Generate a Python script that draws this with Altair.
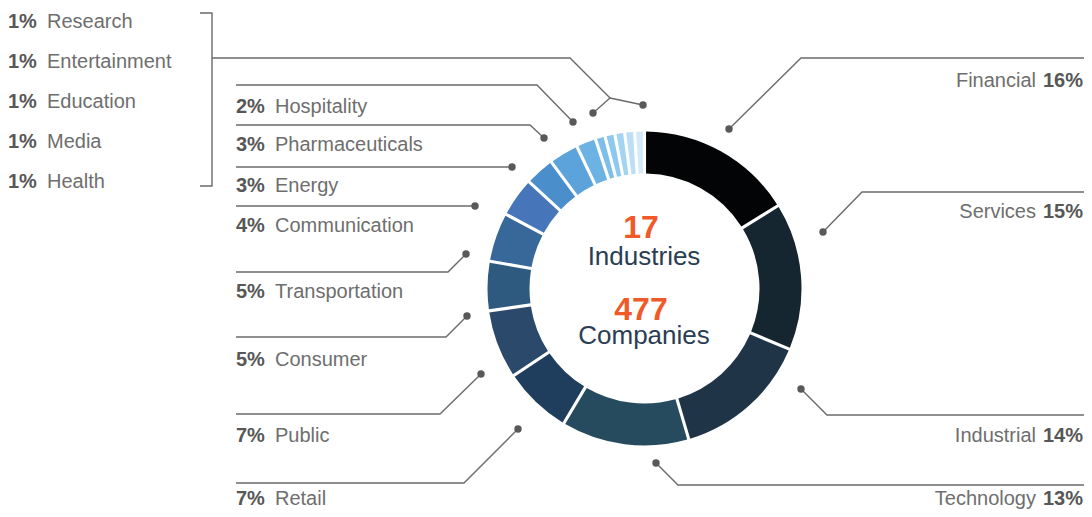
import altair as alt
import pandas as pd

# ---------------- data ----------------
categories = ["Financial", "Services", "Industrial", "Technology", "Retail", "Public",
              "Consumer", "Transportation", "Communication", "Energy", "Pharmaceuticals",
              "Hospitality", "Health", "Media", "Education", "Entertainment", "Research"]
shares = [16, 15, 14, 13, 7, 7, 5, 5, 4, 3, 3, 2, 1, 1, 1, 1, 1]
colors = ["#030405", "#162631", "#1f3447", "#264b5f", "#1f3e5e", "#2b4a6b",
          "#2e5a80", "#38689a", "#4676b9", "#4a8fcc", "#5ba3da", "#6cb2e2",
          "#7dbfe9", "#8dc9ee", "#a3d4f2", "#bcdff5", "#d3ebf9"]
industries_count = 17
companies_count = 477

# ---------------- layout (page pixels) ----------------
CX, CY = 644.5, 288.5
RX = 1083  # right text anchor (chart area ends at 1084)
label_layout = {  # side, anchor x, text baseline
    "Financial": ("R", RX, 87), "Services": ("R", RX, 218),
    "Industrial": ("R", RX, 442), "Technology": ("R", RX, 504.5),
    "Hospitality": ("L", 236, 113), "Pharmaceuticals": ("L", 236, 151),
    "Energy": ("L", 236, 192), "Communication": ("L", 236, 232),
    "Transportation": ("L", 236, 298), "Consumer": ("L", 236, 366),
    "Public": ("L", 236, 442), "Retail": ("L", 236, 504.5),
    "Research": ("L", 8, 28), "Entertainment": ("L", 8, 68),
    "Education": ("L", 8, 108), "Media": ("L", 8, 148), "Health": ("L", 8, 188),
}
leaders = {  # polyline vertices; last vertex gets a dot
    "Financial": [(1084, 58), (801, 58), (729, 129)],
    "Services": [(1084, 192), (862, 192), (823, 232)],
    "Industrial": [(1084, 415), (827, 415), (801, 389)],
    "Technology": [(1084, 485), (678, 485), (656, 463)],
    "Hospitality": [(236, 85), (537, 85), (573, 122)],
    "Pharmaceuticals": [(236, 125), (530, 125), (544, 138)],
    "Energy": [(236, 167), (512, 167)],
    "Communication": [(236, 206), (475, 206)],
    "Transportation": [(236, 272), (448, 272), (466, 254)],
    "Consumer": [(236, 337), (446, 337), (467, 316)],
    "Public": [(236, 414), (440, 414), (481, 374)],
    "Retail": [(236, 483), (464, 483), (518, 429)],
    "bracket": [(200, 13), (212, 13), (212, 186), (200, 186)],
    "group_a": [(212, 58), (570, 58), (610, 98), (593, 113)],
    "group_b": [(610, 98), (643, 105)],
}
dot_keys = [k for k in leaders if k != "bracket"]

# ---------------- tables ----------------
arc_df = pd.DataFrame({"category": categories, "share": shares, "idx": range(len(categories))})

rows = []
for k, pts in leaders.items():
    for i, (px, py) in enumerate(pts):
        rows.append({"seg": k, "i": i, "px": px, "py": py})
line_df = pd.DataFrame(rows)
dot_df = pd.DataFrame([{"seg": k, "px": leaders[k][-1][0], "py": leaders[k][-1][1]} for k in dot_keys])

lab_rows = []
for c, s in zip(categories, shares):
    side, lx, ly = label_layout[c]
    lab_rows.append({"name": c, "pct": f"{s}%", "side": side, "lx": lx, "ly": ly})
lab_df = pd.DataFrame(lab_rows)
left_df = lab_df[lab_df.side == "L"]
right_df = lab_df[lab_df.side == "R"]

center_df = pd.DataFrame({
    "txt": [str(industries_count), "Industries", str(companies_count), "Companies"],
    "kind": ["num", "word", "num", "word"],
    "px": [641, 644, 641, 644],
    "py": [238, 265, 320, 344],
})

# ---------------- scales ----------------
xs = alt.Scale(domain=[8, 1084], nice=False, zero=False)
ys = alt.Scale(domain=[8, 509], nice=False, zero=False, reverse=True)
FONT = "Liberation Sans"
NAME_C = "#6e6e6e"
PCT_C = "#575757"

def X(f):
    return alt.X(f, type="quantitative", scale=xs, axis=None)

def Y(f):
    return alt.Y(f, type="quantitative", scale=ys, axis=None)

arc = alt.Chart(arc_df).mark_arc(innerRadius=115, outerRadius=157, padAngle=0.016).encode(
    theta=alt.Theta("share:Q", stack=True),
    order=alt.Order("idx:Q"),
    color=alt.Color("category:N", scale=alt.Scale(domain=categories, range=colors), legend=None),
    x=alt.X(datum=CX, type="quantitative", scale=xs, axis=None),
    y=alt.Y(datum=CY, type="quantitative", scale=ys, axis=None),
)

lines = alt.Chart(line_df).mark_line(color="#6b6b6b", strokeWidth=1.4).encode(
    x=X("px"), y=Y("py"), detail="seg:N", order="i:Q")

dots = alt.Chart(dot_df).mark_circle(size=55, color="#595959", opacity=1).encode(
    x=X("px"), y=Y("py"))

left_pct = alt.Chart(left_df).mark_text(align="left", baseline="alphabetic", font=FONT,
                                        fontSize=20, fontWeight="bold", color=PCT_C).encode(
    x=X("lx"), y=Y("ly"), text="pct:N")
left_name = alt.Chart(left_df).mark_text(align="left", baseline="alphabetic", font=FONT,
                                         fontSize=20, color=NAME_C, dx=39).encode(
    x=X("lx"), y=Y("ly"), text="name:N")
right_pct = alt.Chart(right_df).mark_text(align="right", baseline="alphabetic", font=FONT,
                                          fontSize=20, fontWeight="bold", color=PCT_C).encode(
    x=X("lx"), y=Y("ly"), text="pct:N")
right_name = alt.Chart(right_df).mark_text(align="right", baseline="alphabetic", font=FONT,
                                           fontSize=20, color=NAME_C, dx=-47).encode(
    x=X("lx"), y=Y("ly"), text="name:N")

center_num = alt.Chart(center_df[center_df.kind == "num"]).mark_text(
    align="center", baseline="alphabetic", font=FONT, fontSize=32, fontWeight="bold",
    color="#f05a28").encode(x=X("px"), y=Y("py"), text="txt:N")
center_word = alt.Chart(center_df[center_df.kind == "word"]).mark_text(
    align="center", baseline="alphabetic", font=FONT, fontSize=26,
    color="#2a3d52").encode(x=X("px"), y=Y("py"), text="txt:N")

chart = alt.layer(arc, lines, dots, left_pct, left_name, right_pct, right_name,
                  center_num, center_word).properties(
    width=1076, height=501, padding=0,
    autosize=alt.AutoSizeParams(type="none"),
).configure_view(stroke=None)

chart.save("out.html", embed_options={"renderer": "svg", "actions": False})
